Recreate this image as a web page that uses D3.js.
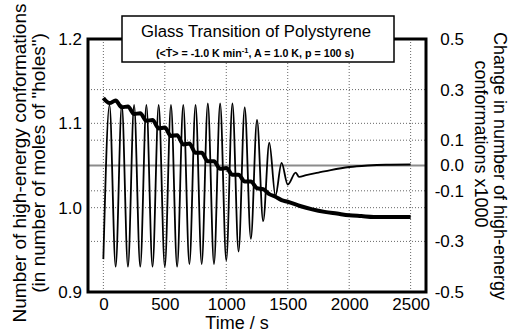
<!DOCTYPE html>
<html>
<head>
<meta charset="utf-8">
<script src="https://cdn.jsdelivr.net/npm/d3@7"></script>
<style>
  body { margin: 0; background: #fff; }
  svg { display: block; font-family: "Liberation Sans", Arial, sans-serif; }
</style>
</head>
<body>
<div id="chart"></div>
<script>
// thin curve: change in high-energy conformations x1000 (right axis)
var thin_t = [0, 50, 100, 150, 200, 250, 300, 350, 400, 450, 500, 550, 600, 650, 700, 750,
    800, 850, 900, 950, 1000, 1050, 1100, 1150, 1200, 1250, 1300, 1350, 1400, 1450, 1500,
    1565, 1592, 1650, 1750, 1850, 2000, 2150, 2300, 2500];
var thin_v = [-0.37, 0.24, -0.40, 0.24, -0.40, 0.24, -0.40, 0.24, -0.40, 0.24, -0.40, 0.24, -0.40, 0.24, -0.39, 0.24,
    -0.39, 0.245, -0.39, 0.245, -0.375, 0.245, -0.34, 0.23, -0.29, 0.18, -0.22, 0.09, -0.12, 0.01, -0.075,
    -0.028, -0.045, -0.038, -0.028, -0.018, -0.006, 0.0, 0.003, 0.004];

// thick curve: number of high-energy conformations (left axis)
var thick_t = [0, 50, 100, 150, 200, 250, 300, 350, 400, 450, 500, 550, 600, 650, 700, 750,
    800, 850, 900, 950, 1000, 1050, 1100, 1150, 1200, 1250, 1300, 1350, 1400, 1450, 1500,
    1600, 1700, 1800, 1900, 2000, 2100, 2200, 2300, 2400, 2500];
var thick_v = [1.130, 1.124, 1.127, 1.119, 1.120, 1.111, 1.112, 1.103, 1.104, 1.094, 1.095, 1.085, 1.086, 1.075, 1.076, 1.065,
    1.065, 1.055, 1.055, 1.046, 1.047, 1.039, 1.039, 1.031, 1.031, 1.023, 1.022, 1.016, 1.013, 1.009, 1.007,
    1.002, 0.998, 0.995, 0.993, 0.991, 0.990, 0.989, 0.989, 0.989, 0.989];

var x_ticks = [0, 500, 1000, 1500, 2000, 2500];
var left_ticks = [0.9, 1.0, 1.1, 1.2];
var right_ticks = [-0.5, -0.3, -0.1, 0.0, 0.1, 0.3, 0.5];
var left_grid = [1.0, 1.1];
var right_grid = [-0.3, -0.1, 0.1, 0.3];

var W = 511, H = 332;
var m_left = 88, m_right = 426, m_top = 39, m_bottom = 292;

var svg = d3.select("#chart").append("svg")
    .attr("width", W)
    .attr("height", H);

var x = d3.scaleLinear().domain([-125, 2625]).range([m_left, m_right]);
var yl = d3.scaleLinear().domain([0.9, 1.2]).range([m_bottom, m_top]);
var yr = d3.scaleLinear().domain([-0.5, 0.5]).range([m_bottom, m_top]);

// grid
var grid = svg.append("g").attr("class", "grid")
    .attr("stroke", "#666").attr("stroke-width", 1).attr("stroke-dasharray", "1,2");

grid.selectAll(".vx").data(x_ticks).enter().append("line")
    .attr("x1", function(d) { return x(d); }).attr("x2", function(d) { return x(d); })
    .attr("y1", m_top).attr("y2", m_bottom);

grid.selectAll(".hl").data(left_grid).enter().append("line")
    .attr("x1", m_left).attr("x2", m_right)
    .attr("y1", function(d) { return yl(d); }).attr("y2", function(d) { return yl(d); });

grid.selectAll(".hr").data(right_grid).enter().append("line")
    .attr("x1", m_left).attr("x2", m_right)
    .attr("y1", function(d) { return yr(d); }).attr("y2", function(d) { return yr(d); });

// zero line of right axis
svg.append("line")
    .attr("x1", m_left).attr("x2", m_right)
    .attr("y1", yr(0)).attr("y2", yr(0))
    .attr("stroke", "#8c8c8c").attr("stroke-width", 2);

// curves
var thin_line = d3.line()
    .x(function(d, i) { return x(thin_t[i]); })
    .y(function(d) { return yr(d); })
    .curve(d3.curveMonotoneX);

svg.append("path")
    .attr("d", thin_line(thin_v))
    .attr("fill", "none")
    .attr("stroke", "#000")
    .attr("stroke-width", 1.8);

var thick_line = d3.line()
    .x(function(d, i) { return x(thick_t[i]); })
    .y(function(d) { return yl(d); })
    .curve(d3.curveMonotoneX);

svg.append("path")
    .attr("d", thick_line(thick_v))
    .attr("fill", "none")
    .attr("stroke", "#000")
    .attr("stroke-width", 4);

// frame
svg.append("rect")
    .attr("x", m_left).attr("y", m_top)
    .attr("width", m_right - m_left).attr("height", m_bottom - m_top)
    .attr("fill", "none").attr("stroke", "#000").attr("stroke-width", 3);

// axes
var fmt = function(d) { return d.toFixed(1); };

var ax_b = svg.append("g")
    .attr("transform", "translate(0," + m_bottom + ")")
    .call(d3.axisBottom(x).tickValues(x_ticks).tickFormat(function(d) { return String(d); })
        .tickSize(0).tickPadding(6));

var ax_l = svg.append("g")
    .attr("transform", "translate(" + m_left + ",0)")
    .call(d3.axisLeft(yl).tickValues(left_ticks).tickFormat(fmt).tickSize(0).tickPadding(6));

var ax_r = svg.append("g")
    .attr("transform", "translate(" + m_right + ",0)")
    .call(d3.axisRight(yr).tickValues(right_ticks).tickFormat(fmt).tickSize(0));
ax_r.selectAll("text").attr("text-anchor", "end").attr("x", 38);

[ax_b, ax_l, ax_r].forEach(function(a) {
    a.select(".domain").remove();
    a.selectAll("text")
        .style("font-family", "'Liberation Sans', Arial, sans-serif")
        .style("font-size", "17px")
        .attr("fill", "#000");
});

// axis titles
svg.append("text")
    .text("Time / s")
    .attr("x", 237).attr("y", 329)
    .attr("text-anchor", "middle")
    .style("font-size", "18px");

var lt = svg.append("g").attr("transform", "translate(0,163) rotate(-90)");
lt.append("text").text("Number of high-energy conformations")
    .attr("x", 0).attr("y", 26).attr("text-anchor", "middle").style("font-size", "19px");
lt.append("text").text("(in number of moles of \"holes\")")
    .attr("x", 0).attr("y", 45).attr("text-anchor", "middle").style("font-size", "19px");

var rt = svg.append("g").attr("transform", "translate(511,0) rotate(90)");
rt.append("text").text("Change in number of high-energy")
    .attr("x", 166).attr("y", 17).attr("text-anchor", "middle").style("font-size", "18px");
rt.append("text").text("conformations  x1000")
    .attr("x", 144).attr("y", 36).attr("text-anchor", "middle").style("font-size", "18px");

// title box
svg.append("rect")
    .attr("x", 122).attr("y", 16).attr("width", 272).attr("height", 46)
    .attr("fill", "#fff").attr("stroke", "#000").attr("stroke-width", 1.5);

svg.append("text")
    .text("Glass Transition of Polystyrene")
    .attr("x", 256).attr("y", 37)
    .attr("text-anchor", "middle")
    .style("font-size", "16.7px");

var sub = svg.append("text")
    .attr("x", 255).attr("y", 57)
    .attr("text-anchor", "middle")
    .style("font-size", "10.7px").style("font-weight", "bold");
sub.append("tspan").text("(<\u1E6A> = -1.0 K min");
sub.append("tspan").text("-1").attr("dy", -4).style("font-size", "7.5px");
sub.append("tspan").text(", A = 1.0 K, p = 100 s)").attr("dy", 4);
</script>
</body>
</html>
